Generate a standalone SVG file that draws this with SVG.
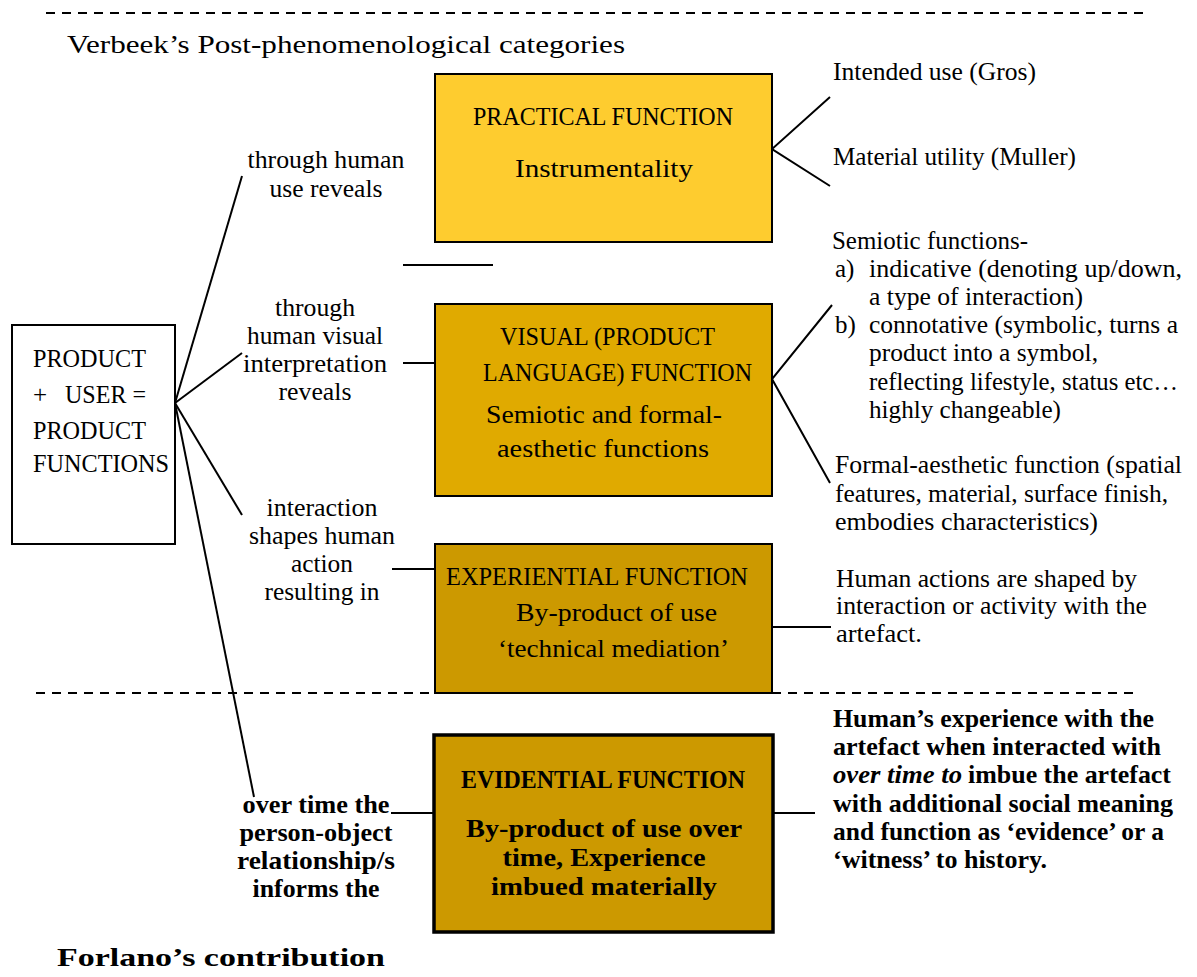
<svg xmlns="http://www.w3.org/2000/svg" width="1197" height="977" viewBox="0 0 1197 977">
  <style>
    .t { font-family: "Liberation Serif", "DejaVu Serif", serif; font-size: 25px; fill: #000; }
    .b { font-family: "Liberation Serif", "DejaVu Serif", serif; font-size: 25px; font-weight: bold; fill: #000; }
    .m { text-anchor: middle; }
    .ln { stroke: #000; stroke-width: 2; fill: none; }
    .dash { stroke: #000; stroke-width: 2; stroke-dasharray: 9 7; fill: none; }
    .box { stroke: #000; stroke-width: 2; }
  </style>
  <rect width="1197" height="977" fill="#fff"/>

  <!-- connectors and separators -->
  <g id="connectors">
    <line class="dash" x1="46" y1="13" x2="1149" y2="13"/>
    <line class="dash" x1="36" y1="693" x2="1140" y2="693"/>
    <!-- fan out of the product/user box -->
    <line class="ln" x1="175" y1="403" x2="242" y2="176"/>
    <line class="ln" x1="175" y1="403" x2="242" y2="353"/>
    <line class="ln" x1="175" y1="403" x2="242" y2="515"/>
    <line class="ln" x1="175" y1="403" x2="254" y2="797"/>
    <!-- label to box ties -->
    <line class="ln" x1="403" y1="265" x2="493" y2="265"/>
    <line class="ln" x1="403" y1="363" x2="435" y2="363"/>
    <line class="ln" x1="392" y1="569" x2="435" y2="569"/>
    <line class="ln" x1="391" y1="813" x2="434" y2="813"/>
    <!-- right side branches -->
    <polyline class="ln" points="830,97 772,149 830,186"/>
    <polyline class="ln" points="832,305 772,379 830,483"/>
    <line class="ln" x1="772" y1="627" x2="831" y2="627"/>
    <line class="ln" x1="773" y1="813" x2="815" y2="813"/>
  </g>

  <text class="t" x="67" y="53" font-size="30" textLength="558" lengthAdjust="spacingAndGlyphs">Verbeek’s Post-phenomenological categories</text>

  <g id="product-user">
    <rect class="box" x="12" y="325" width="163" height="219" fill="#fff"/>
    <text class="t" x="33" y="367" textLength="113" lengthAdjust="spacingAndGlyphs">PRODUCT</text>
    <text class="t" y="403"><tspan x="33">+</tspan><tspan x="65" textLength="81" lengthAdjust="spacingAndGlyphs">USER =</tspan></text>
    <text class="t" x="33" y="439" textLength="113" lengthAdjust="spacingAndGlyphs">PRODUCT</text>
    <text class="t" x="33" y="472" textLength="136" lengthAdjust="spacingAndGlyphs">FUNCTIONS</text>
  </g>

  <g id="label-use">
    <text class="t m" x="326" y="168" textLength="157" lengthAdjust="spacingAndGlyphs">through human</text>
    <text class="t m" x="326" y="197" textLength="113" lengthAdjust="spacingAndGlyphs">use reveals</text>
  </g>

  <g id="label-visual">
    <text class="t m" x="315" y="316" textLength="80" lengthAdjust="spacingAndGlyphs">through</text>
    <text class="t m" x="315" y="344" textLength="136" lengthAdjust="spacingAndGlyphs">human visual</text>
    <text class="t m" x="315" y="372" textLength="144" lengthAdjust="spacingAndGlyphs">interpretation</text>
    <text class="t m" x="315" y="400" textLength="73" lengthAdjust="spacingAndGlyphs">reveals</text>
  </g>

  <g id="label-interaction">
    <text class="t m" x="322" y="516" textLength="111" lengthAdjust="spacingAndGlyphs">interaction</text>
    <text class="t m" x="322" y="544" textLength="146" lengthAdjust="spacingAndGlyphs">shapes human</text>
    <text class="t m" x="322" y="572" textLength="62" lengthAdjust="spacingAndGlyphs">action</text>
    <text class="t m" x="322" y="600" textLength="115" lengthAdjust="spacingAndGlyphs">resulting in</text>
  </g>

  <g id="label-time">
    <text class="b m" x="316" y="813" textLength="147" lengthAdjust="spacingAndGlyphs">over time the</text>
    <text class="b m" x="316" y="841" textLength="153" lengthAdjust="spacingAndGlyphs">person-object</text>
    <text class="b m" x="316" y="869" textLength="158" lengthAdjust="spacingAndGlyphs">relationship/s</text>
    <text class="b m" x="316" y="897" textLength="127" lengthAdjust="spacingAndGlyphs">informs the</text>
  </g>

  <g id="practical-function">
    <rect class="box" x="435" y="74" width="337" height="168" fill="#FECC2F"/>
    <text class="t m" x="603" y="125" textLength="260" lengthAdjust="spacingAndGlyphs">PRACTICAL FUNCTION</text>
    <text class="t m" x="604" y="177" textLength="178" lengthAdjust="spacingAndGlyphs">Instrumentality</text>
  </g>

  <g id="visual-function">
    <rect class="box" x="435" y="304" width="337" height="192" fill="#E0AA00"/>
    <text class="t" x="500" y="345" textLength="215" lengthAdjust="spacingAndGlyphs">VISUAL (PRODUCT</text>
    <text class="t" x="483" y="381" textLength="269" lengthAdjust="spacingAndGlyphs">LANGUAGE) FUNCTION</text>
    <text class="t" x="486" y="423" textLength="236" lengthAdjust="spacingAndGlyphs">Semiotic and formal-</text>
    <text class="t" x="497" y="457" textLength="212" lengthAdjust="spacingAndGlyphs">aesthetic functions</text>
  </g>

  <g id="experiential-function">
    <rect class="box" x="435" y="544" width="337" height="149" fill="#CC9900"/>
    <text class="t" x="446" y="585" textLength="302" lengthAdjust="spacingAndGlyphs">EXPERIENTIAL FUNCTION</text>
    <text class="t" x="516" y="621" textLength="201" lengthAdjust="spacingAndGlyphs">By-product of use</text>
    <text class="t" x="498" y="657" textLength="231" lengthAdjust="spacingAndGlyphs">‘technical mediation’</text>
  </g>

  <g id="evidential-function">
    <rect x="434" y="735" width="339" height="197" fill="#CC9900" stroke="#000" stroke-width="3.5"/>
    <text class="b m" x="603" y="788" textLength="284" lengthAdjust="spacingAndGlyphs">EVIDENTIAL FUNCTION</text>
    <text class="b m" x="604" y="837" textLength="276" lengthAdjust="spacingAndGlyphs">By-product of use over</text>
    <text class="b m" x="604" y="866" textLength="203" lengthAdjust="spacingAndGlyphs">time, Experience</text>
    <text class="b m" x="604" y="895" textLength="226" lengthAdjust="spacingAndGlyphs">imbued materially</text>
  </g>

  <g id="practical-notes">
    <text class="t" x="833" y="80" textLength="203" lengthAdjust="spacingAndGlyphs">Intended use (Gros)</text>
    <text class="t" x="833" y="165" textLength="243" lengthAdjust="spacingAndGlyphs">Material utility (Muller)</text>
  </g>

  <g id="visual-notes">
    <text class="t" x="832" y="249" textLength="196" lengthAdjust="spacingAndGlyphs">Semiotic functions-</text>
    <text class="t" x="835" y="277">a)</text>
    <text class="t" x="869" y="277" textLength="313" lengthAdjust="spacingAndGlyphs">indicative (denoting up/down,</text>
    <text class="t" x="869" y="305" textLength="214" lengthAdjust="spacingAndGlyphs">a type of interaction)</text>
    <text class="t" x="835" y="333">b)</text>
    <text class="t" x="869" y="333" textLength="309" lengthAdjust="spacingAndGlyphs">connotative (symbolic, turns a</text>
    <text class="t" x="869" y="361" textLength="229" lengthAdjust="spacingAndGlyphs">product into a symbol,</text>
    <text class="t" x="869" y="390" textLength="309" lengthAdjust="spacingAndGlyphs">reflecting lifestyle, status etc…</text>
    <text class="t" x="869" y="418" textLength="192" lengthAdjust="spacingAndGlyphs">highly changeable)</text>
    <text class="t" x="835" y="473" textLength="347" lengthAdjust="spacingAndGlyphs">Formal-aesthetic function (spatial</text>
    <text class="t" x="835" y="502" textLength="333" lengthAdjust="spacingAndGlyphs">features, material, surface finish,</text>
    <text class="t" x="835" y="530" textLength="263" lengthAdjust="spacingAndGlyphs">embodies characteristics)</text>
  </g>

  <g id="experiential-notes">
    <text class="t" x="836" y="587" textLength="301" lengthAdjust="spacingAndGlyphs">Human actions are shaped by</text>
    <text class="t" x="836" y="614" textLength="311" lengthAdjust="spacingAndGlyphs">interaction or activity with the</text>
    <text class="t" x="836" y="642" textLength="86" lengthAdjust="spacingAndGlyphs">artefact.</text>
  </g>

  <g id="evidential-notes">
    <text class="b" x="833" y="727" textLength="321" lengthAdjust="spacingAndGlyphs">Human’s experience with the</text>
    <text class="b" x="833" y="755" textLength="328" lengthAdjust="spacingAndGlyphs">artefact when interacted with</text>
    <text class="b" x="833" y="783"><tspan font-style="italic" textLength="129" lengthAdjust="spacingAndGlyphs">over time to</tspan><tspan x="968" textLength="203" lengthAdjust="spacingAndGlyphs">imbue the artefact</tspan></text>
    <text class="b" x="833" y="812" textLength="340" lengthAdjust="spacingAndGlyphs">with additional social meaning</text>
    <text class="b" x="833" y="840" textLength="331" lengthAdjust="spacingAndGlyphs">and function as ‘evidence’ or a</text>
    <text class="b" x="833" y="868" textLength="214" lengthAdjust="spacingAndGlyphs">‘witness’ to history.</text>
  </g>

  <text class="b" x="57" y="966" font-size="30" textLength="328" lengthAdjust="spacingAndGlyphs">Forlano’s contribution</text>
</svg>
